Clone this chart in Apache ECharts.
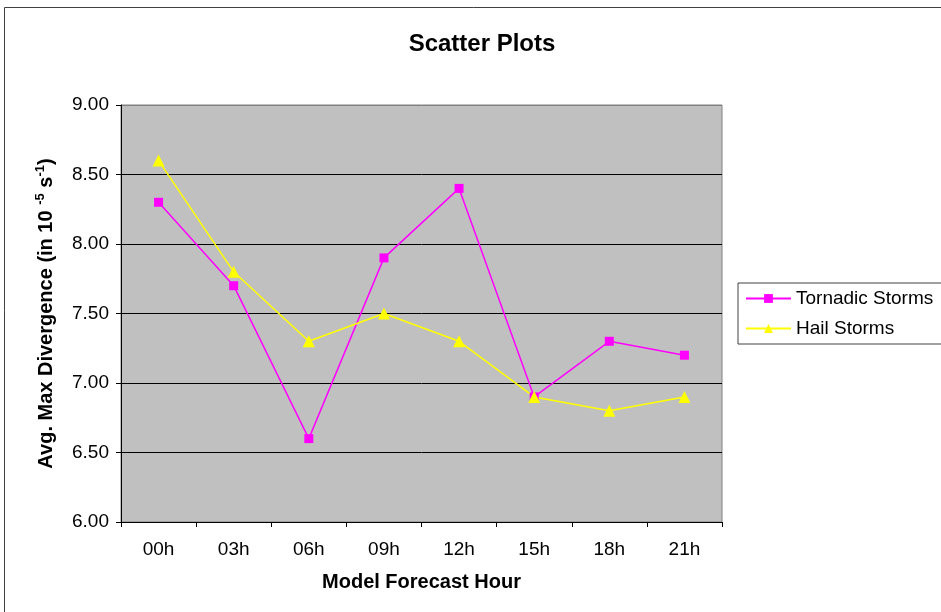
<!DOCTYPE html>
<html>
<head>
<meta charset="utf-8">
<script src="https://cdn.jsdelivr.net/npm/echarts@6/dist/echarts.min.js"></script>
<style>
  html, body { margin: 0; padding: 0; background: #fff; }
  #chart { width: 941px; height: 612px; }
</style>
</head>
<body>
<div id="chart"></div>
<script>
// forecast hours
const hours = ["00h", "03h", "06h", "09h", "12h", "15h", "18h", "21h"];
// avg max divergence (10^-5 s^-1)
const tornadic = [8.3, 7.7, 6.6, 7.9, 8.4, 6.9, 7.3, 7.2];
const hail = [8.6, 7.8, 7.3, 7.5, 7.3, 6.9, 6.8, 6.9];

const chart = echarts.init(document.getElementById("chart"));
const font = "Arial, 'Liberation Sans', sans-serif";

let option = {
  animation: false,
  textStyle: { fontFamily: font },
  title: {
    text: "Scatter Plots",
    left: 477,
    textAlign: "center",
    top: 27,
    textStyle: { fontSize: 24, fontWeight: "bold", color: "#000", fontFamily: font },
  },
  graphic: [
    {
      type: "rect",
      shape: { x: 4.5, y: 7.5, width: 1000, height: 700 },
      style: { fill: "none", stroke: "#404040", lineWidth: 1 },
      silent: true,
    },
  ],
  legend: {
    orient: "vertical",
    left: 738,
    top: 283,
    padding: [6, 10, 6, 7],
    itemGap: 11,
    itemWidth: 45,
    itemHeight: 11,
    borderColor: "#404040",
    borderWidth: 1,
    textStyle: { fontSize: 19, color: "#000", fontFamily: font },
    data: ["Tornadic Storms", "Hail Storms"],
  },
  grid: {
    left: 121,
    right: 219,
    top: 105,
    bottom: 90,
    show: true,
    backgroundColor: "#c0c0c0",
    borderColor: "#808080",
    borderWidth: 1,
  },
  xAxis: {
    type: "category",
    data: hours,
    boundaryGap: true,
    name: "Model Forecast Hour",
    nameLocation: "middle",
    nameGap: 50,
    nameTextStyle: { fontSize: 20, fontWeight: "bold", color: "#000" },
    axisLine: { lineStyle: { color: "#000", width: 1 } },
    axisTick: { show: true, length: 5, lineStyle: { color: "#000" } },
    axisLabel: { fontSize: 19, color: "#000", margin: 18 },
    splitLine: { show: false },
  },
  yAxis: {
    type: "value",
    min: 6,
    max: 9,
    interval: 0.5,
    name: "{b|Avg. Max Divergence (in 10 }{sup|-5}{b| s}{sup|-1}{b|)}",
    nameLocation: "middle",
    nameGap: 63,
    nameTextStyle: {
      rich: {
        b: { fontSize: 20, fontWeight: "bold", color: "#000", fontFamily: font, lineHeight: 24 },
        sup: { fontSize: 13, fontWeight: "bold", color: "#000", fontFamily: font, verticalAlign: "top", lineHeight: 24, padding: [0, 0, 10, 0] },
      },
    },
    axisLine: { show: true, lineStyle: { color: "#000", width: 1 } },
    axisTick: { show: true, length: 5, lineStyle: { color: "#000" } },
    axisLabel: {
      fontSize: 19,
      color: "#000",
      margin: 12,
      formatter: (v) => v.toFixed(2),
    },
    splitLine: {
      show: true,
      lineStyle: { color: ["#000", "#000", "#000", "#000", "#000", "#000", "#808080"], width: 1 },
    },
  },
  series: [
    {
      name: "Tornadic Storms",
      type: "line",
      data: tornadic,
      symbol: "rect",
      symbolSize: 9,
      itemStyle: { color: "#ff00ff" },
      lineStyle: { color: "#ff00ff", width: 1.5 },
    },
    {
      name: "Hail Storms",
      type: "line",
      data: hail,
      symbol: "triangle",
      symbolSize: 12,
      itemStyle: { color: "#ffff00" },
      lineStyle: { color: "#ffff00", width: 1.5 },
    },
  ],
};
chart.setOption(option);
</script>
</body>
</html>
